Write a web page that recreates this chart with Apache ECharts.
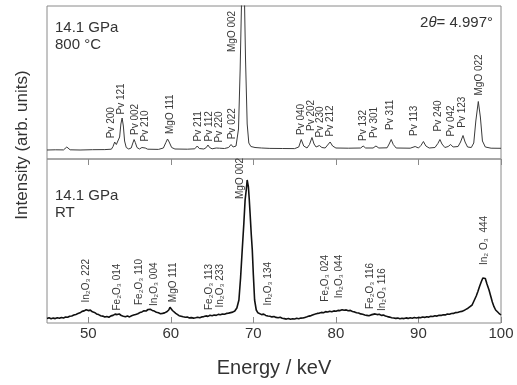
<!DOCTYPE html>
<html>
<head>
<meta charset="utf-8">
<script src="https://cdn.jsdelivr.net/npm/echarts@6/dist/echarts.min.js"></script>
<style>
  html, body { margin: 0; padding: 0; background: #fff; }
  #chart { width: 517px; height: 385px; }
</style>
</head>
<body>
<div id="chart"></div>
<script>
// energy ticks (keV)
const xTicks = [50, 60, 70, 80, 90, 100];

// 14.1 GPa, 800 °C spectrum: [energy keV, intensity arb.]
const hotSpectrum = [
  [45.0, 9.0], [46.0, 9.2], [47.0, 9.1], [47.2, 10.5], [47.4, 12.0], [47.6, 10.5], [47.8, 9.2],
  [49.0, 9.0], [50.5, 9.3], [52.0, 9.4], [52.8, 9.8], [53.0, 12.5], [53.2, 17.0], [53.4, 14.5],
  [53.6, 13.0], [53.8, 22.0], [53.95, 35.0], [54.1, 41.0], [54.25, 33.0], [54.4, 18.0], [54.6, 11.5],
  [54.9, 10.0], [55.2, 11.0], [55.4, 16.0], [55.55, 19.5], [55.7, 16.5], [55.9, 11.5], [56.2, 10.0],
  [56.5, 11.5], [56.7, 13.0], [56.9, 11.0], [57.2, 9.8], [58.5, 9.6], [59.1, 11.0], [59.4, 16.5],
  [59.6, 20.0], [59.8, 17.0], [60.1, 11.5], [60.5, 10.0], [62.0, 9.8], [62.9, 10.2], [63.2, 13.0],
  [63.45, 10.5], [64.0, 10.0], [64.3, 11.5], [64.5, 14.0], [64.7, 11.5], [65.0, 10.2], [65.5, 11.0],
  [65.7, 12.0], [65.9, 10.8], [66.5, 10.5], [67.0, 11.5], [67.3, 14.5], [67.55, 12.0], [67.9, 13.0],
  [68.2, 30.0], [68.4, 90.0], [68.6, 170.0], [68.73, 200.0], [68.9, 170.0], [69.05, 100.0],
  [69.25, 35.0], [69.45, 16.0], [69.7, 12.5], [70.2, 11.5], [71.0, 11.0], [72.0, 10.6], [73.5, 10.5],
  [75.0, 10.4], [75.5, 12.0], [75.8, 19.5], [76.1, 13.0], [76.5, 11.0], [76.8, 14.5], [77.1, 21.5],
  [77.35, 15.0], [77.6, 12.0], [78.0, 13.5], [78.3, 11.5], [78.7, 11.0], [79.0, 14.0], [79.3, 17.0],
  [79.6, 13.0], [80.0, 11.0], [81.5, 10.8], [83.0, 11.0], [83.3, 13.0], [83.6, 11.0], [84.5, 11.0],
  [84.85, 13.0], [85.2, 11.0], [86.2, 11.2], [86.45, 15.0], [86.7, 19.5], [86.95, 14.5], [87.3, 11.0],
  [89.0, 10.8], [89.6, 12.5], [90.0, 11.0], [90.3, 13.5], [90.6, 17.5], [90.9, 13.0], [91.3, 11.0],
  [92.0, 11.5], [92.35, 15.5], [92.6, 19.5], [92.85, 15.0], [93.2, 11.5], [93.6, 12.5], [93.9, 14.5],
  [94.2, 12.0], [94.8, 12.5], [95.1, 17.0], [95.4, 23.5], [95.65, 17.0], [95.95, 12.0], [96.4, 11.5],
  [96.7, 16.0], [96.95, 38.0], [97.25, 57.5], [97.5, 42.0], [97.75, 18.0], [98.1, 12.0], [98.8, 10.8],
  [100.0, 10.7]
];

// 14.1 GPa, room temperature spectrum
const rtSpectrum = [
  [45.0, 4.5], [45.25, 5.2], [45.5, 4.3], [45.75, 4.9], [46.0, 4.4], [46.25, 5.3], [46.5, 4.8],
  [46.75, 5.6], [47.0, 5.0], [47.25, 5.9], [47.5, 5.7], [47.75, 6.8], [48.0, 7.0], [48.25, 7.9],
  [48.5, 8.6], [48.75, 9.4], [49.0, 10.2], [49.25, 11.6], [49.5, 12.1], [49.75, 13.3], [50.0, 12.4],
  [50.25, 12.9], [50.5, 11.2], [50.75, 10.6], [51.0, 9.1], [51.25, 8.4], [51.5, 7.3], [51.75, 6.9],
  [52.0, 6.0], [52.25, 6.6], [52.5, 5.8], [52.75, 7.1], [53.0, 7.6], [53.25, 8.9], [53.5, 8.4],
  [53.75, 9.0], [54.0, 7.5], [54.25, 6.8], [54.5, 6.2], [54.75, 6.9], [55.0, 6.1], [55.25, 7.2],
  [55.5, 7.9], [55.75, 8.6], [56.0, 9.2], [56.25, 10.4], [56.5, 11.1], [56.75, 12.3], [57.0, 12.0],
  [57.25, 13.5], [57.5, 13.8], [57.75, 12.6], [58.0, 11.9], [58.25, 10.8], [58.5, 10.2], [58.75, 9.3],
  [59.0, 9.6], [59.25, 10.1], [59.5, 11.2], [59.75, 13.0], [59.9, 15.8], [60.05, 14.2], [60.2, 12.5],
  [60.4, 10.9], [60.6, 9.6], [60.8, 8.4], [61.0, 7.3], [61.25, 6.8], [61.5, 6.2], [61.75, 5.7],
  [62.0, 5.9], [62.25, 5.1], [62.5, 5.4], [62.75, 4.9], [63.0, 5.3], [63.25, 5.8], [63.5, 5.2],
  [63.75, 6.1], [64.0, 6.4], [64.25, 7.1], [64.5, 6.6], [64.75, 7.7], [65.0, 7.3], [65.25, 8.0],
  [65.5, 7.6], [65.75, 8.6], [66.0, 8.2], [66.25, 9.0], [66.5, 8.7], [66.75, 9.6], [67.0, 9.9],
  [67.25, 10.4], [67.5, 10.9], [67.75, 12.0], [68.0, 15.0], [68.25, 23.0], [68.45, 45.0],
  [68.65, 73.0], [68.85, 100.0], [69.0, 123.0], [69.15, 134.0], [69.25, 143.0], [69.33, 144.7],
  [69.4, 136.0], [69.5, 124.0], [69.6, 110.0], [69.75, 88.0], [69.87, 73.0], [70.0, 48.0],
  [70.15, 23.0], [70.35, 13.0], [70.55, 10.2], [70.75, 9.5], [71.0, 8.4], [71.25, 8.9], [71.5, 7.6],
  [71.75, 7.0], [72.0, 6.8], [72.25, 6.1], [72.5, 6.5], [72.75, 5.6], [73.0, 5.2], [73.25, 5.7],
  [73.5, 4.8], [73.75, 4.4], [74.0, 3.9], [74.25, 4.5], [74.5, 3.8], [74.75, 4.3], [75.0, 4.0],
  [75.25, 4.7], [75.5, 4.3], [75.75, 4.9], [76.0, 5.0], [76.25, 5.6], [76.5, 6.2], [76.75, 6.9],
  [77.0, 7.4], [77.25, 8.3], [77.5, 8.9], [77.75, 9.6], [78.0, 9.9], [78.25, 10.6], [78.5, 10.3],
  [78.75, 11.4], [79.0, 11.0], [79.25, 11.8], [79.5, 11.3], [79.75, 12.1], [80.0, 11.7],
  [80.25, 12.6], [80.5, 12.4], [80.75, 13.3], [81.0, 12.7], [81.25, 13.1], [81.5, 12.2],
  [81.75, 12.6], [82.0, 11.5], [82.25, 11.1], [82.5, 10.3], [82.75, 10.0], [83.0, 9.1], [83.25, 8.7],
  [83.5, 8.0], [83.75, 7.6], [84.0, 7.2], [84.25, 8.1], [84.5, 8.6], [84.75, 9.1], [85.0, 8.4],
  [85.25, 8.8], [85.5, 7.6], [85.75, 7.9], [86.0, 7.0], [86.25, 6.4], [86.5, 5.9], [86.75, 5.3],
  [87.0, 5.0], [87.25, 4.6], [87.5, 4.9], [87.75, 4.3], [88.0, 4.7], [88.25, 4.4], [88.5, 5.1],
  [88.75, 4.6], [89.0, 5.3], [89.25, 4.8], [89.5, 5.5], [89.75, 5.0], [90.0, 5.6], [90.25, 5.2],
  [90.5, 6.0], [90.75, 5.6], [91.0, 6.3], [91.25, 5.9], [91.5, 6.8], [91.75, 6.5], [92.0, 7.3],
  [92.25, 6.9], [92.5, 7.8], [92.75, 7.6], [93.0, 8.3], [93.25, 8.1], [93.5, 8.9], [93.75, 8.7],
  [94.0, 9.5], [94.25, 9.6], [94.5, 10.4], [94.75, 10.5], [95.0, 11.2], [95.25, 11.6], [95.5, 12.4],
  [95.75, 13.6], [96.0, 14.8], [96.25, 16.4], [96.5, 18.0], [96.75, 22.5], [97.0, 27.0],
  [97.2, 31.5], [97.4, 36.5], [97.6, 41.0], [97.8, 45.0], [97.95, 47.0], [98.1, 44.5], [98.3, 39.0],
  [98.55, 33.0], [98.75, 27.0], [98.95, 21.0], [99.15, 16.3], [99.35, 13.0], [99.55, 11.0],
  [99.75, 9.7], [100.0, 8.0]
];

// reflection labels: [text, energy, intensity where the label starts]
const hotPeaks = [
  ['Pv 200', 52.75, 20.7], ['Pv 121', 53.95, 44.5], ['Pv 002', 55.7, 24], ['Pv 210', 56.9, 17.5],
  ['MgO 111', 59.9, 25], ['Pv 211', 63.3, 17.5], ['Pv 112', 64.6, 17.5], ['Pv 220', 65.9, 16.5],
  ['Pv 022', 67.45, 19.7], ['MgO 002', 67.4, 107], ['Pv 040', 75.8, 24], ['Pv 202', 77.0, 28],
  ['Pv 230', 78.15, 21.5], ['Pv 212', 79.35, 22.5], ['Pv 132', 83.3, 18], ['Pv 301', 84.7, 21],
  ['Pv 311', 86.6, 29], ['Pv 113', 89.55, 23], ['Pv 240', 92.4, 27.5], ['Pv 042', 94.0, 22.5],
  ['Pv 123', 95.3, 31.3], ['MgO 022', 97.4, 63.5]
];
const rtPeaks = [
  ['In₂O₃ 222', 49.7, 20.5], ['Fe₂O₃ 014', 53.45, 12.5], ['Fe₂O₃ 110', 56.2, 18],
  ['In₂O₃ 004', 57.95, 17], ['MgO 111', 60.3, 20.8], ['Fe₂O₃ 113', 64.65, 13],
  ['In₂O₃ 233', 66.0, 15.5], ['MgO 002', 68.4, 124], ['In₂O₃ 134', 71.75, 17.5],
  ['Fe₂O₃ 024', 78.75, 21.3], ['In₂O₃ 044', 80.35, 24.7], ['Fe₂O₃ 116', 84.1, 14],
  ['In₂O₃ 116', 85.6, 12], ['In₂ O₃  444', 98.0, 58]
];

const FONT = '"Liberation Sans", Arial, "DejaVu Sans", sans-serif';
const frame = '#8a8a8a';

const labelSeries = (list, idx) => ({
  type: 'custom',
  xAxisIndex: idx,
  yAxisIndex: idx,
  clip: false,
  silent: true,
  z: 5,
  data: list.map((d) => [d[1], d[2]]),
  renderItem: (params, api) => {
    const p = api.coord([api.value(0), api.value(1)]);
    return {
      type: 'text',
      x: p[0],
      y: p[1],
      rotation: Math.PI / 2,
      style: {
        text: list[params.dataIndex][0],
        fontFamily: FONT,
        fontSize: 10,
        fill: '#3a3a3a',
        align: 'left',
        verticalAlign: 'middle',
      },
    };
  },
});

const xBase = (idx) => ({
  type: 'value',
  gridIndex: idx,
  min: 45,
  max: 100,
  splitLine: { show: false },
  axisLine: { show: false },
  axisTick: {
    inside: true,
    length: 6,
    customValues: xTicks,
    lineStyle: { color: frame },
  },
});

const option = {
  animation: false,
  backgroundColor: '#fff',
  grid: [
    { left: 47, right: 16, top: 6, height: 153, show: true, borderColor: frame, borderWidth: 1 },
    { left: 47, right: 16, top: 159, height: 164, show: true, borderColor: frame, borderWidth: 1 },
  ],
  xAxis: [
    { ...xBase(0), position: 'top', axisLabel: { show: false } },
    {
      ...xBase(1),
      position: 'bottom',
      axisLabel: {
        customValues: xTicks,
        fontFamily: FONT,
        fontSize: 15,
        color: '#333',
        margin: 3,
      },
      name: 'Energy / keV',
      nameLocation: 'middle',
      nameGap: 35,
      nameTextStyle: { fontFamily: FONT, fontSize: 20, color: '#333' },
    },
  ],
  yAxis: [
    { type: 'value', gridIndex: 0, min: 0, max: 153, show: false },
    { type: 'value', gridIndex: 1, min: 0, max: 164, show: false },
  ],
  graphic: [
    {
      type: 'text', x: 22, y: 145, rotation: Math.PI / 2,
      style: {
        text: 'Intensity (arb. units)', fontFamily: FONT, fontSize: 17, fill: '#333',
        align: 'center', verticalAlign: 'middle',
      },
    },
    {
      type: 'text', x: 55, y: 19,
      style: { text: '14.1 GPa\n800 °C', fontFamily: FONT, fontSize: 15, lineHeight: 17, fill: '#333' },
    },
    {
      type: 'text', x: 55, y: 187,
      style: { text: '14.1 GPa\nRT', fontFamily: FONT, fontSize: 15, lineHeight: 17, fill: '#333' },
    },
    {
      type: 'text', x: 493, y: 15,
      style: {
        text: '{a|2}{t|θ}{a|= 4.997°}', align: 'right', fill: '#333',
        rich: {
          a: { fontFamily: FONT, fontSize: 15, fill: '#333' },
          t: { fontFamily: FONT, fontSize: 15, fontStyle: 'italic', fill: '#333' },
        },
      },
    },
  ],
  series: [
    {
      type: 'line', xAxisIndex: 0, yAxisIndex: 0, data: hotSpectrum,
      symbol: 'none', lineStyle: { color: '#3a3a3a', width: 1 }, clip: true,
    },
    {
      type: 'line', xAxisIndex: 1, yAxisIndex: 1, data: rtSpectrum,
      symbol: 'none', lineStyle: { color: '#111', width: 1.6 }, clip: true,
    },
    labelSeries(hotPeaks, 0),
    labelSeries(rtPeaks, 1),
  ],
};

const chart = echarts.init(document.getElementById('chart'), null, { renderer: 'canvas' });
chart.setOption(option);
</script>
</body>
</html>
